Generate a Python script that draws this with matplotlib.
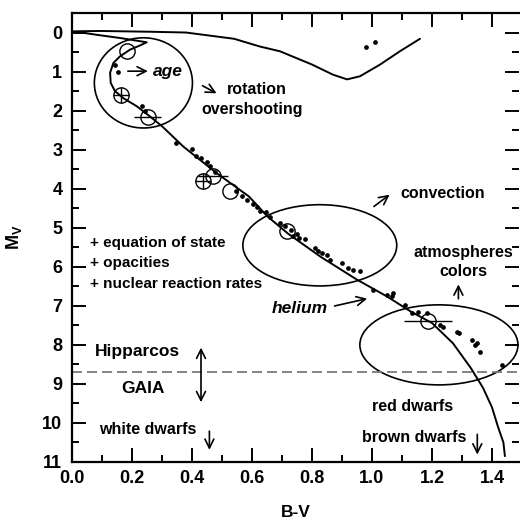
import matplotlib
matplotlib.use("Agg")
import matplotlib.pyplot as plt
from matplotlib.patches import Ellipse
from matplotlib.ticker import MultipleLocator

plt.rcParams['font.family'] = ['Liberation Sans', 'DejaVu Sans']
plt.rcParams['font.weight'] = 'bold'
plt.rcParams['mathtext.fontset'] = 'custom'
plt.rcParams['mathtext.rm'] = 'Liberation Sans:bold'
plt.rcParams['mathtext.bf'] = 'Liberation Sans:bold'
plt.rcParams['mathtext.it'] = 'Liberation Sans:bold:italic'
plt.rcParams['lines.scale_dashes'] = False

# ---- data ----
# isochrone: main sequence (bottom -> turnoff), hook, then subgiant / giant branch
iso_bv = [1.443, 1.438, 1.42, 1.40, 1.37, 1.33, 1.27, 1.20, 1.13, 1.05, 0.95, 0.83, 0.72,
          0.65, 0.59, 0.482, 0.371, 0.30, 0.26, 0.216, 0.171, 0.143, 0.129, 0.127, 0.138,
          0.16, 0.193, 0.227, 0.249, 0.16, 0.093, 0.04, -0.03,
          0.0, 0.093, 0.26, 0.38, 0.54, 0.627, 0.693, 0.80, 0.87, 0.917, 0.96, 1.027, 1.093, 1.16]
iso_mv = [10.85, 10.5, 10.1, 9.6, 9.1, 8.6, 7.96, 7.44, 7.15, 6.76, 6.33, 5.75, 5.15,
          4.7, 4.2, 3.6, 2.92, 2.4, 2.15, 1.89, 1.68, 1.5, 1.29, 1.03, 0.78,
          0.61, 0.44, 0.33, 0.25, 0.14, 0.07, 0.01, -0.03,
          -0.03, -0.04, -0.02, 0.0, 0.16, 0.36, 0.48, 0.82, 1.08, 1.2, 1.12, 0.82, 0.48, 0.16]

# individual stars (small dots)
star_bv = [0.143, 0.152, 0.232, 0.244, 0.346, 0.40, 0.413, 0.43, 0.449, 0.46, 0.477,
           0.545, 0.566, 0.582, 0.604, 0.616, 0.627, 0.645, 0.66, 0.693, 0.71, 0.73,
           0.749, 0.735, 0.755, 0.775, 0.81, 0.82, 0.832, 0.849, 0.86, 0.899, 0.921,
           0.938, 0.96, 1.004, 1.049, 1.066, 1.071, 1.11, 1.132, 1.154, 1.182, 1.227,
           1.238, 1.282, 1.29, 1.332, 1.343, 1.35, 1.36, 1.432, 0.98, 1.01]
star_mv = [0.84, 1.02, 1.88, 2.01, 2.83, 2.99, 3.15, 3.22, 3.32, 3.43, 3.56,
           4.05, 4.18, 4.28, 4.38, 4.46, 4.56, 4.60, 4.72, 4.88, 4.95, 5.05,
           5.16, 5.22, 5.26, 5.29, 5.52, 5.60, 5.65, 5.69, 5.82, 5.91, 6.03,
           6.08, 6.12, 6.59, 6.72, 6.76, 6.68, 6.97, 7.19, 7.15, 7.19, 7.49,
           7.53, 7.66, 7.70, 7.87, 8.00, 7.95, 8.17, 8.51, 0.38, 0.24]

# stars with open circles (and x error bars)
circ_bv = [0.182, 0.163, 0.252, 0.438, 0.471, 0.527, 0.716, 1.188]
circ_mv = [0.48, 1.59, 2.16, 3.81, 3.68, 4.05, 5.09, 7.40]
circ_xerr = [0.0, 0.0, 0.045, 0.0, 0.05, 0.0, 0.0, 0.08]
cross_bv = [0.163, 0.438]
cross_mv = [1.59, 3.81]

# ellipses (centre B-V, centre MV, width, height)
ell_bv = [0.238, 0.826, 1.223]
ell_mv = [1.29, 5.45, 8.00]
ell_w = [0.327, 0.513, 0.527]
ell_h = [2.31, 2.08, 2.05]

limit_mv = 8.7  # Hipparcos / GAIA limit

xticks = [0.0, 0.2, 0.4, 0.6, 0.8, 1.0, 1.2, 1.4]
xticklabels = ['0.0', '0.2', '0.4', '0.6', '0.8', '1.0', '1.2', '1.4']
yticks = list(range(0, 12))

# ---- figure ----
fig = plt.figure(figsize=(5.2, 5.22), dpi=100)
ax = fig.add_axes([72 / 520, 1 - 462 / 522, 447 / 520, 449 / 522])

ax.plot(iso_bv, iso_mv, color='black', lw=1.4, solid_capstyle='round')
ax.plot(star_bv, star_mv, 'o', color='black', ms=3.4, mec='none')
for bx, my, xe in zip(circ_bv, circ_mv, circ_xerr):
    if xe > 0:
        ax.errorbar([bx], [my], xerr=[xe], fmt='none', ecolor='black', elinewidth=1.0, capsize=0)
ax.plot(circ_bv, circ_mv, 'o', mfc='none', mec='black', ms=11, mew=1.0)
ax.plot(cross_bv, cross_mv, '+', color='black', ms=11, mew=1.0)

for cx, cy, w, h in zip(ell_bv, ell_mv, ell_w, ell_h):
    ax.add_patch(Ellipse((cx, cy), w, h, fill=False, ec='black', lw=1.2))

ax.axhline(limit_mv, color='#7a7a7a', lw=1.3, dashes=[7.2, 3.6])

ax.set_xlim(0.0, 1.49)
ax.set_ylim(11.0, -0.5)
ax.set_xticks(xticks)
ax.set_xticklabels(xticklabels)
ax.set_yticks(yticks)
ax.xaxis.set_minor_locator(MultipleLocator(0.1))
ax.yaxis.set_minor_locator(MultipleLocator(0.5))
ax.tick_params(which='both', direction='in', top=True, right=True, width=1.4, labelsize=13)
ax.tick_params(which='major', length=10)
ax.tick_params(which='minor', length=5)
ax.tick_params(axis='x', pad=6)
ax.tick_params(axis='y', pad=7)
for s in ['left', 'bottom', 'top']:
    ax.spines[s].set_linewidth(1.6)
ax.spines['right'].set_visible(False)

ax.set_xlabel('B-V', fontsize=12.5, fontweight='bold', labelpad=13)
ax.set_ylabel(r'$\mathrm{M_V}$', fontsize=13, labelpad=13)

arrow = dict(arrowstyle='->', color='black', lw=1.2, mutation_scale=16)

# age
ax.annotate('', xy=(0.262, 0.99), xytext=(0.177, 0.99), arrowprops=arrow)
ax.text(0.271, 0.99, 'age', fontsize=12.5, fontweight='bold', style='italic', ha='left', va='center')
# rotation / overshooting
ax.annotate('', xy=(0.49, 1.59), xytext=(0.427, 1.33), arrowprops=arrow)
ax.text(0.516, 1.46, 'rotation', fontsize=11.5, ha='left', va='center')
ax.text(0.43, 1.97, 'overshooting', fontsize=11.5, ha='left', va='center')
# convection
ax.annotate('', xy=(1.066, 4.11), xytext=(0.999, 4.5), arrowprops=arrow)
ax.text(1.093, 4.13, 'convection', fontsize=11.5, ha='left', va='center')
# atmospheres colors
ax.text(1.305, 5.64, 'atmospheres', fontsize=11.5, ha='center', va='center')
ax.text(1.306, 6.12, 'colors', fontsize=11.5, ha='center', va='center')
ax.annotate('', xy=(1.288, 6.38), xytext=(1.288, 6.89), arrowprops=arrow)
# helium
ax.annotate('', xy=(0.993, 6.8), xytext=(0.866, 7.02), arrowprops=arrow)
ax.text(0.666, 7.06, 'helium', fontsize=12.5, fontweight='bold', style='italic', ha='left', va='center')
# physics
ax.text(0.06, 5.39, '+ equation of state', fontsize=11, ha='left', va='center')
ax.text(0.06, 5.90, '+ opacities', fontsize=11, ha='left', va='center')
ax.text(0.06, 6.44, '+ nuclear reaction rates', fontsize=11, ha='left', va='center')
# Hipparcos / GAIA
ax.text(0.217, 8.17, 'Hipparcos', fontsize=12.5, ha='center', va='center')
ax.text(0.238, 9.11, 'GAIA', fontsize=12.5, ha='center', va='center')
ax.annotate('', xy=(0.43, 8.0), xytext=(0.43, 9.54),
            arrowprops=dict(arrowstyle='<->', color='black', lw=1.2, mutation_scale=16))
# dwarfs
ax.text(0.252, 10.18, 'white dwarfs', fontsize=11.5, ha='center', va='center')
ax.annotate('', xy=(0.458, 10.76), xytext=(0.458, 10.14), arrowprops=arrow)
ax.text(1.134, 9.58, 'red dwarfs', fontsize=11.5, ha='center', va='center')
ax.text(1.139, 10.37, 'brown dwarfs', fontsize=11.5, ha='center', va='center')
ax.annotate('', xy=(1.351, 10.88), xytext=(1.351, 10.22), arrowprops=arrow)

fig.savefig('out.png', dpi=100)
